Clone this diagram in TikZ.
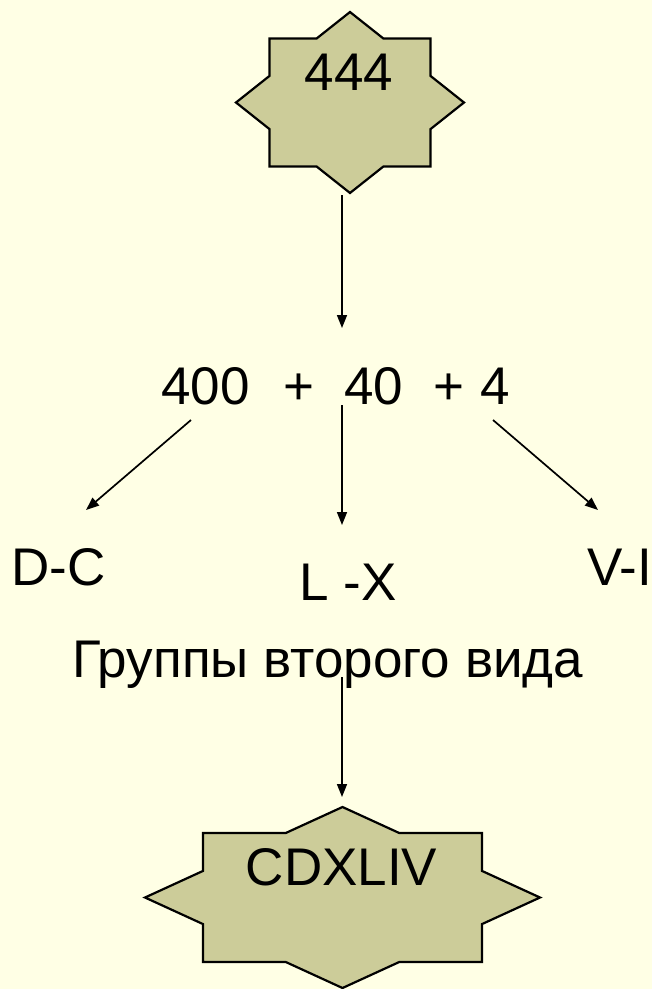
\documentclass[tikz,border=0pt]{standalone}
\usepackage{fontspec}
\setmainfont{Liberation Sans}
\usetikzlibrary{arrows.meta}
\definecolor{bgyellow}{RGB}{255,255,229}
\definecolor{starfill}{RGB}{204,204,153}
\newcommand\drawoctastar[6]{%
  \pgfmathsetmacro\octSX{#5*(1-#4/#6)}%
  \pgfmathsetmacro\octSY{#6*(1-#3/#5)}%
  \draw[starshape] (#1,#2-#6) -- (#1+\octSX,#2-#4) -- (#1+#3,#2-#4) -- (#1+#3,#2-\octSY)
    -- (#1+#5,#2) -- (#1+#3,#2+\octSY) -- (#1+#3,#2+#4) -- (#1+\octSX,#2+#4)
    -- (#1,#2+#6) -- (#1-\octSX,#2+#4) -- (#1-#3,#2+#4) -- (#1-#3,#2+\octSY)
    -- (#1-#5,#2) -- (#1-#3,#2-\octSY) -- (#1-#3,#2-#4) -- (#1-\octSX,#2-#4) -- cycle;}
\begin{document}
\begin{tikzpicture}[x=1pt,y=-1pt,
  starshape/.style={fill=starfill,draw=black,line width=2.2pt,line join=miter},
  arrowline/.style={draw=black,line width=1.7pt,-{Triangle[length=13pt,width=10pt]}},
  lbl/.style={inner sep=0pt,font=\fontsize{53}{60}\selectfont,text=black}]
\fill[bgyellow] (0,0) rectangle (652,989);
\useasboundingbox (0,0) rectangle (652,989);
% stars
\drawoctastar{350}{102.5}{80.5}{64}{114}{90.5}
\drawoctastar{342.5}{897.5}{139.5}{64.5}{197.5}{90.5}
% texts
\node[lbl,anchor=base] (n444) at (349,90) {444};
\node[lbl,anchor=base] (roman) at (341.5,885) {CDXLIV};
\node[lbl,anchor=base west] (sum) at (161,404) {400\hspace{34pt}+\hspace{30pt}40\hspace{30pt}+\hspace{16.5pt}4};
\node[lbl,anchor=base west] (dc) at (11,585) {D-C};
\node[lbl,anchor=base west] (lx) at (299,600) {L -X};
\node[lbl,anchor=base west] (vi) at (587,585) {V-I};
\node[lbl,anchor=base west] (groups) at (72,677) {Группы второго вида};
% connector end points
\coordinate (a1s) at (342,195);
\coordinate (a1e) at (342,328);
\coordinate (a2s) at (191,420);
\coordinate (a2e) at (86,510);
\coordinate (a3s) at (342,405);
\coordinate (a3e) at (342,525);
\coordinate (a4s) at (493,420);
\coordinate (a4e) at (598,510);
\coordinate (a5s) at (342,677);
\coordinate (a5e) at (342,797);
\draw[arrowline] (a1s) -- (a1e);
\draw[arrowline] (a2s) -- (a2e);
\draw[arrowline] (a3s) -- (a3e);
\draw[arrowline] (a4s) -- (a4e);
\draw[arrowline] (a5s) -- (a5e);
\end{tikzpicture}
\end{document}
